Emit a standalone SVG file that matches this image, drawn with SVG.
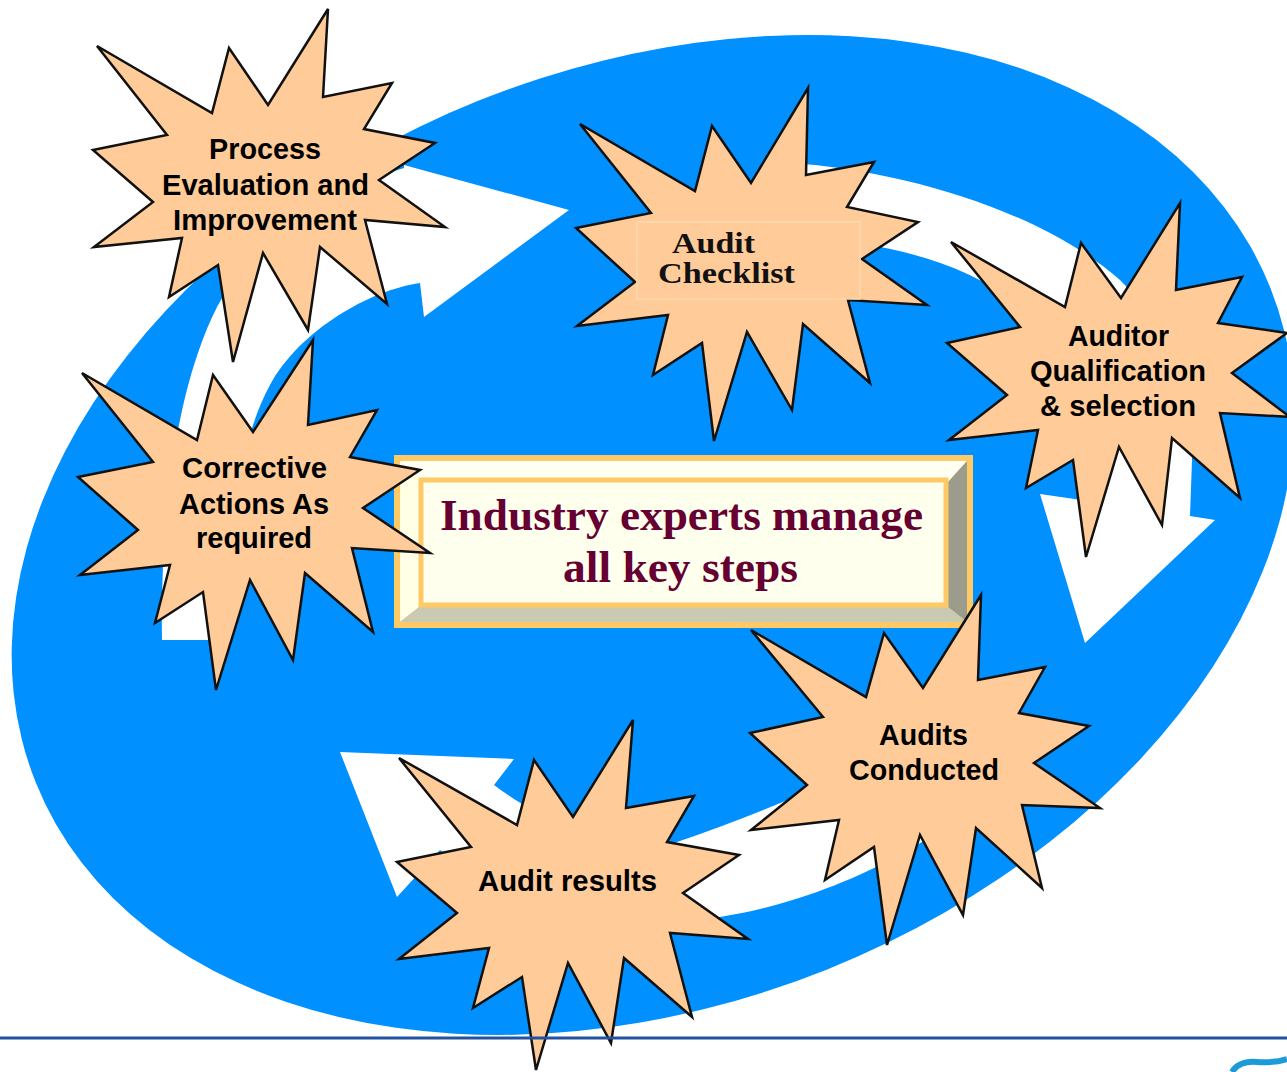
<svg xmlns="http://www.w3.org/2000/svg" width="1287" height="1072" viewBox="0 0 1287 1072">
  <defs>
    <style>
      .star { fill: #FFCC99; stroke: #111111; stroke-width: 2.5; stroke-linejoin: miter; }
      .arrow { fill: #FFFFFF; stroke: none; }
      .lbl { font-family: "Liberation Sans", Arial, sans-serif; font-weight: bold; font-size: 29px; fill: #000000; }
      .ser { font-family: "Liberation Serif", "Times New Roman", serif; font-weight: bold; font-size: 29px; fill: #111111; }
      .ctr { font-family: "Liberation Serif", "Times New Roman", serif; font-weight: bold; font-size: 45px; fill: #660033; }
    </style>
  </defs>

  <rect x="0" y="0" width="1287" height="1072" fill="#FFFFFF"/>

  <g id="background-cycle">
    <ellipse cx="653" cy="535" rx="665" ry="468" transform="rotate(-21.85 653 535)" fill="#0090FF"/>
  </g>

  <g id="connectors">
    <path class="arrow" d="M162,640 C160,520 175,390 217,307 C260,230 330,190 404,168 L404,165 L569,210 L424,317 L420,283 C370,290 300,330 270,385 C245,430 225,520 222,640 Z"/>
    <path class="arrow" d="M790,163 C900,170 1040,210 1120,280 C1170,330 1192,400 1192,460 L1190,516 L1215,520 L1085,643 L1040,494 L1102,503 C1098,420 1070,350 1020,305 C960,260 880,240 790,238 Z"/>
    <path class="arrow" d="M975,700 C930,740 800,800 674,843 C600,845 540,820 494,785 L514,759 L340,752 L397,897 L440,850 C510,905 620,925 720,917 C830,900 950,840 1010,770 Z"/>
  </g>

  <g id="center-box">
    <rect x="394" y="455" width="579" height="173" fill="#FFC966"/>
    <polygon points="400,461 967,461 948,482 419,482" fill="#FFFFF2"/>
    <polygon points="400,461 419,482 419,607 400,622" fill="#FFFFE6"/>
    <polygon points="967,461 967,622 948,607 948,482" fill="#9C9C8C"/>
    <polygon points="400,622 967,622 948,607 419,607" fill="#CACAB2"/>
    <rect x="421" y="480" width="525" height="125" fill="#FFFFEE" stroke="#FFC966" stroke-width="5"/>
    <text class="ctr" x="440" y="530" textLength="483" lengthAdjust="spacingAndGlyphs">Industry experts manage</text>
    <text class="ctr" x="563" y="582" textLength="235" lengthAdjust="spacingAndGlyphs">all key steps</text>
  </g>

  <g id="node-process-evaluation">
    <polygon class="star" points="97,46 212,113 229,48 268,105 328,9 323,97 392,83 364,129 435,143 379,180 445,227 365,220 387,304 320,247 308,330 263,253 233,362 218,265 169,297 182,238 94,247 153,202 93,150 167,135"/>
    <text class="lbl" x="209" y="159" textLength="112" lengthAdjust="spacingAndGlyphs">Process</text>
    <text class="lbl" x="162" y="195" textLength="207" lengthAdjust="spacingAndGlyphs">Evaluation and</text>
    <text class="lbl" x="173" y="230" textLength="184" lengthAdjust="spacingAndGlyphs">Improvement</text>
  </g>

  <g id="node-audit-checklist">
    <polygon class="star" points="580,124 695,191 712,126 751,183 808,88 806,175 874,162 847,207 918,222 862,259 927,305 848,300 870,383 803,324 792,410 747,332 714,441 702,343 653,375 668,315 577,326 635,282 576,228 651,213"/>
    <rect x="637" y="222" width="223" height="77" fill="none" stroke="#FCDAB0" stroke-width="1.5"/>
    <text class="ser" x="672" y="253" textLength="83" lengthAdjust="spacingAndGlyphs">Audit</text>
    <text class="ser" x="658" y="283" textLength="137" lengthAdjust="spacingAndGlyphs">Checklist</text>
  </g>

  <g id="node-auditor-qualification">
    <polygon class="star" points="951,242 1065,307 1081,243 1121,298 1180,203 1176,290 1242,277 1218,323 1287,333 1232,373 1290,417 1220,413 1240,498 1172,438 1162,525 1119,447 1086,557 1073,460 1026,488 1038,430 949,440 1007,395 947,343 1020,327"/>
    <text class="lbl" x="1068" y="346" textLength="101" lengthAdjust="spacingAndGlyphs">Auditor</text>
    <text class="lbl" x="1030" y="381" textLength="176" lengthAdjust="spacingAndGlyphs">Qualification</text>
    <text class="lbl" x="1040" y="416" textLength="156" lengthAdjust="spacingAndGlyphs">&amp; selection</text>
  </g>

  <g id="node-corrective-actions">
    <polygon class="star" points="82,373 197,440 213,375 253,432 313,340 308,425 377,410 350,457 420,470 363,508 430,553 352,548 373,632 305,573 293,660 250,580 216,690 203,592 155,623 170,565 80,575 138,530 78,477 153,462"/>
    <text class="lbl" x="182" y="478" textLength="145" lengthAdjust="spacingAndGlyphs">Corrective</text>
    <text class="lbl" x="179" y="514" textLength="150" lengthAdjust="spacingAndGlyphs">Actions As</text>
    <text class="lbl" x="196" y="548" textLength="116" lengthAdjust="spacingAndGlyphs">required</text>
  </g>

  <g id="node-audits-conducted">
    <polygon class="star" points="751,630 866,697 884,633 923,688 981,595 978,680 1045,667 1019,713 1089,726 1034,763 1100,808 1022,805 1042,888 976,828 963,915 920,835 887,945 874,847 825,880 839,820 751,830 807,785 750,733 823,717"/>
    <text class="lbl" x="879" y="745" textLength="89" lengthAdjust="spacingAndGlyphs">Audits</text>
    <text class="lbl" x="849" y="780" textLength="150" lengthAdjust="spacingAndGlyphs">Conducted</text>
  </g>

  <g id="node-audit-results">
    <polygon class="star" points="399,758 517,825 534,760 573,817 633,720 626,808 694,796 667,842 739,855 683,893 748,939 670,933 692,1017 624,958 611,1043 568,963 536,1070 522,977 473,1008 489,948 399,959 457,913 397,862 471,847"/>
    <text class="lbl" x="478" y="891" textLength="179" lengthAdjust="spacingAndGlyphs">Audit results</text>
  </g>

  <g id="footer">
    <line x1="0" y1="1038" x2="1287" y2="1038" stroke="#2452A0" stroke-width="3"/>
    <path d="M1232,1072 C1237,1064 1245,1061 1257,1062 C1269,1063 1277,1062 1287,1059" fill="none" stroke="#1C9BD8" stroke-width="6"/>
  </g>
</svg>
